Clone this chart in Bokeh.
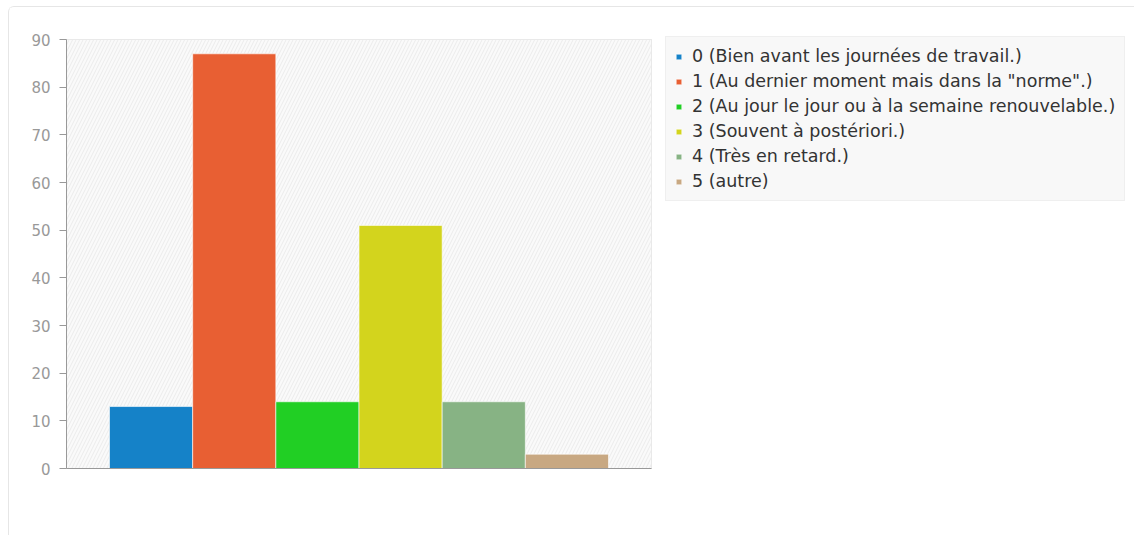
from bokeh.plotting import figure
from bokeh.models import ColumnDataSource, Legend, LegendItem, FixedTicker, BoxAnnotation
from bokeh.embed import file_html
from bokeh.resources import INLINE

labels = [
    "0 (Bien avant les journées de travail.)",
    '1 (Au dernier moment mais dans la "norme".)',
    "2 (Au jour le jour ou à la semaine renouvelable.)",
    "3 (Souvent à postériori.)",
    "4 (Très en retard.)",
    "5 (autre)",
]
values = [13, 87, 14, 51, 14, 3]
colors = ["#1582c8", "#e85f33", "#21cf24", "#d3d41d", "#87b384", "#c8a882"]
positions = [0, 1, 2, 3, 4, 5]
y_ticks = [0, 10, 20, 30, 40, 50, 60, 70, 80, 90]

p = figure(frame_width=585, frame_height=429, output_backend="svg", toolbar_location=None,
           x_range=(-1.017, 6.017), y_range=(0, 90),
           min_border_left=57, min_border_top=32, min_border_bottom=67, min_border_right=0)
p.styles = {"border-left": "1px solid #e6e6e6", "border-top": "1px solid #e6e6e6",
            "border-top-left-radius": "6px", "margin-left": "8px", "margin-top": "6px"}
p.background_fill_color = "#fafafa"
p.border_fill_color = "white"
p.outline_line_color = "#e3e3e3"

bg = BoxAnnotation(fill_color="#fafafa", fill_alpha=1.0, line_alpha=0,
                   hatch_pattern="/", hatch_color="#ebebeb", hatch_scale=7,
                   hatch_weight=1, level="underlay")
p.add_layout(bg)

items = []
for i in range(len(values)):
    src = ColumnDataSource(dict(x=[positions[i]], top=[values[i]]))
    r = p.vbar(x="x", top="top", width=1.0, source=src, fill_color=colors[i],
               line_color="white", line_alpha=0.6, line_width=1)
    items.append(LegendItem(label=labels[i], renderers=[r]))

p.yaxis.ticker = FixedTicker(ticks=y_ticks)
p.yaxis.axis_line_color = "#999999"
p.yaxis.major_tick_line_color = "#999999"
p.yaxis.major_tick_out = 7
p.yaxis.major_tick_in = 0
p.yaxis.minor_tick_line_color = None
p.yaxis.major_label_text_color = "#999999"
p.yaxis.major_label_text_font = "DejaVu Sans"
p.yaxis.major_label_text_font_size = "15px"
p.yaxis.major_label_standoff = 9

p.xaxis.ticker = FixedTicker(ticks=[])
p.xaxis.axis_line_color = "#999999"
p.xaxis.major_tick_line_color = None
p.xaxis.minor_tick_line_color = None
p.xaxis.major_label_text_font_size = "0px"

p.ygrid.ticker = FixedTicker(ticks=y_ticks[1:-1])
p.ygrid.grid_line_color = "#e6e6e6"
p.ygrid.grid_line_dash = "6 4"
p.xgrid.ticker = FixedTicker(ticks=[2.5])
p.xgrid.grid_line_color = "#e6e6e6"
p.xgrid.grid_line_dash = "6 4"

legend = Legend(items=items, location=(14, 267))
legend.glyph_width = 7
legend.glyph_height = 7
legend.label_height = 20
legend.spacing = 5
legend.padding = 9
legend.margin = 0
legend.label_standoff = 10
legend.label_text_font = "DejaVu Sans"
legend.label_text_font_size = "17.5px"
legend.label_text_color = "#333333"
legend.background_fill_color = "#f8f8f8"
legend.background_fill_alpha = 1.0
legend.border_line_color = "#e6e6e6"
p.add_layout(legend, "right")

open("out.html", "w").write(file_html(p, INLINE))
